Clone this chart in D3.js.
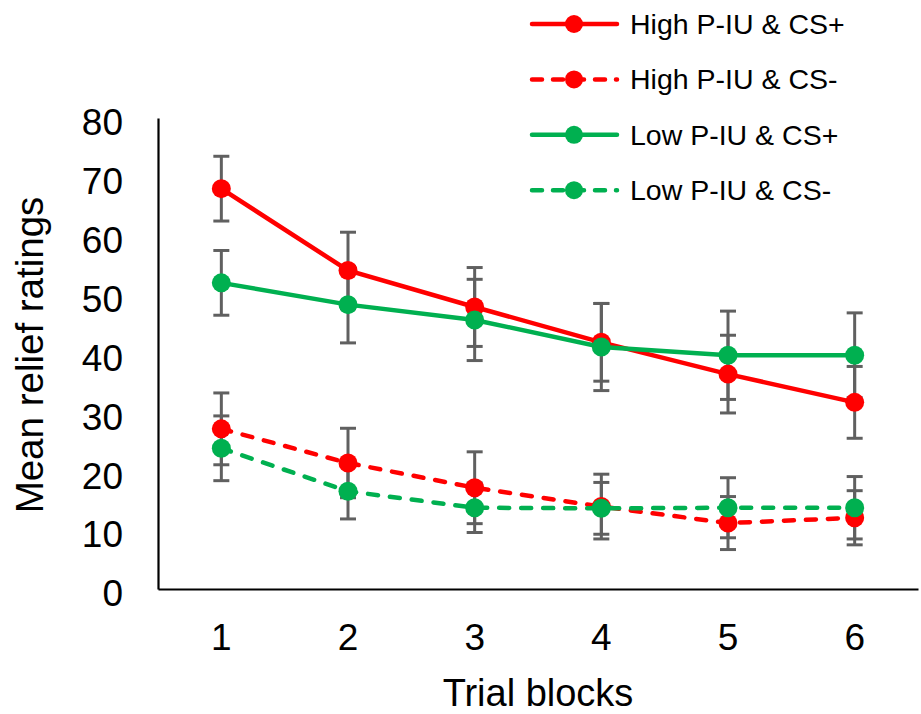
<!DOCTYPE html>
<html>
<head>
<meta charset="utf-8">
<script src="https://d3js.org/d3.v7.min.js"></script>
<style>
  body { margin: 0; background: #fff; }
  text { font-family: "Liberation Sans", Arial, sans-serif; }
</style>
</head>
<body>
<svg id="chart" width="921" height="714"></svg>
<script>
    var width = 921;
    var height = 714;
    var margin = ({ top: 118, right: 3, bottom: 125, left: 158 });

    // data
    const blocks = ["1", "2", "3", "4", "5", "6"];
    const yTicks = [0, 10, 20, 30, 40, 50, 60, 70, 80];
    const seriesNames = ["High P-IU & CS+", "High P-IU & CS-", "Low P-IU & CS+", "Low P-IU & CS-"];

    const highCSplus = [68.0, 54.1, 47.9, 41.9, 36.5, 31.7];
    const highCSplusErr = [5.5, 6.5, 6.7, 6.6, 6.6, 6.1];
    const highCSminus = [27.2, 21.4, 17.2, 14.0, 11.2, 12.1];
    const highCSminusErr = [6.1, 5.9, 6.1, 5.5, 4.5, 4.6];
    const lowCSplus = [52.0, 48.3, 45.7, 41.1, 39.7, 39.7];
    const lowCSplusErr = [5.5, 6.5, 6.9, 7.4, 7.5, 7.2];
    const lowCSminus = [23.9, 16.6, 13.8, 13.7, 13.8, 13.8];
    const lowCSminusErr = [5.5, 4.7, 4.2, 4.4, 5.1, 5.3];

    const red = "#ff0000";
    const green = "#00b050";

    var series = [
        { name: seriesNames[0], values: highCSplus, err: highCSplusErr, color: red, dashed: false },
        { name: seriesNames[1], values: highCSminus, err: highCSminusErr, color: red, dashed: true },
        { name: seriesNames[2], values: lowCSplus, err: lowCSplusErr, color: green, dashed: false },
        { name: seriesNames[3], values: lowCSminus, err: lowCSminusErr, color: green, dashed: true }
    ];

    var x_scale = d3.scaleBand()
        .domain(blocks)
        .range([margin.left, width - margin.right])
    var y_scale = d3.scaleLinear()
        .domain([0, 80])
        .range([height - margin.bottom, margin.top])

    var cx = (b) => x_scale(b) + x_scale.bandwidth() / 2

    var svg = d3.select('#chart')

    // axes
    svg.append("g")
        .attr("transform", `translate(${margin.left},0)`)
        .call(d3.axisLeft(y_scale).tickValues(yTicks).tickSize(0).tickPadding(35))
        .call(g => g.select(".domain").attr("stroke", "#000").attr("stroke-width", 2.2))
        .call(g => g.selectAll("text")
            .attr("font-size", 37)
            .attr("font-family", "Liberation Sans, Arial, sans-serif")
            .attr("fill", "#000")
            .attr("y", 5))

    svg.append("g")
        .attr("transform", `translate(0,${height - margin.bottom})`)
        .call(d3.axisBottom(x_scale).tickSize(0).tickPadding(35))
        .call(g => g.select(".domain").attr("stroke", "#000").attr("stroke-width", 2.2))
        .call(g => g.selectAll("text")
            .attr("font-size", 37)
            .attr("font-family", "Liberation Sans, Arial, sans-serif")
            .attr("fill", "#000"))

    svg.append("text")
        .attr("x", (margin.left + width - margin.right) / 2)
        .attr("y", 706)
        .attr("text-anchor", "middle")
        .attr("font-size", 38)
        .text("Trial blocks")

    svg.append("text")
        .attr("transform", `translate(43,355) rotate(-90)`)
        .attr("text-anchor", "middle")
        .attr("font-size", 38.5)
        .text("Mean relief ratings")

    // error bars
    var errG = svg.append("g")
        .attr("stroke", "#606060")
        .attr("stroke-width", 3)
    series.forEach(s => {
        blocks.forEach((b, i) => {
            var lo = y_scale(s.values[i] - s.err[i])
            var hi = y_scale(s.values[i] + s.err[i])
            var x = cx(b)
            errG.append("line").attr("x1", x).attr("x2", x).attr("y1", lo).attr("y2", hi)
            errG.append("line").attr("x1", x - 8).attr("x2", x + 8).attr("y1", lo).attr("y2", lo)
            errG.append("line").attr("x1", x - 8).attr("x2", x + 8).attr("y1", hi).attr("y2", hi)
        })
    })

    // lines and markers
    var line = d3.line()
        .x((d, i) => cx(blocks[i]))
        .y(d => y_scale(d))

    series.forEach(s => {
        var g = svg.append("g")
        g.append("path")
            .attr("d", line(s.values))
            .attr("fill", "none")
            .attr("stroke", s.color)
            .attr("stroke-width", 4.5)
            .attr("stroke-linecap", s.dashed ? "round" : "butt")
            .attr("stroke-dasharray", s.dashed ? "10,12" : null)
        g.selectAll("circle")
            .data(s.values)
            .join("circle")
            .attr("cx", (d, i) => cx(blocks[i]))
            .attr("cy", d => y_scale(d))
            .attr("r", 9.5)
            .attr("fill", s.color)
    })

    // legend
    var legend = svg.append("g")
    series.forEach((s, i) => {
        var y = 24 + i * 55.4
        legend.append("line")
            .attr("x1", 532).attr("x2", 617)
            .attr("y1", y).attr("y2", y)
            .attr("stroke", s.color)
            .attr("stroke-width", 4.5)
            .attr("stroke-linecap", "round")
            .attr("stroke-dasharray", s.dashed ? "10,11" : null)
        legend.append("circle")
            .attr("cx", 574).attr("cy", y).attr("r", 9)
            .attr("fill", s.color)
        legend.append("text")
            .attr("x", 630)
            .attr("y", y + 10)
            .attr("font-size", 28.5)
            .attr("fill", "#000")
            .text(s.name)
    })
</script>
</body>
</html>
